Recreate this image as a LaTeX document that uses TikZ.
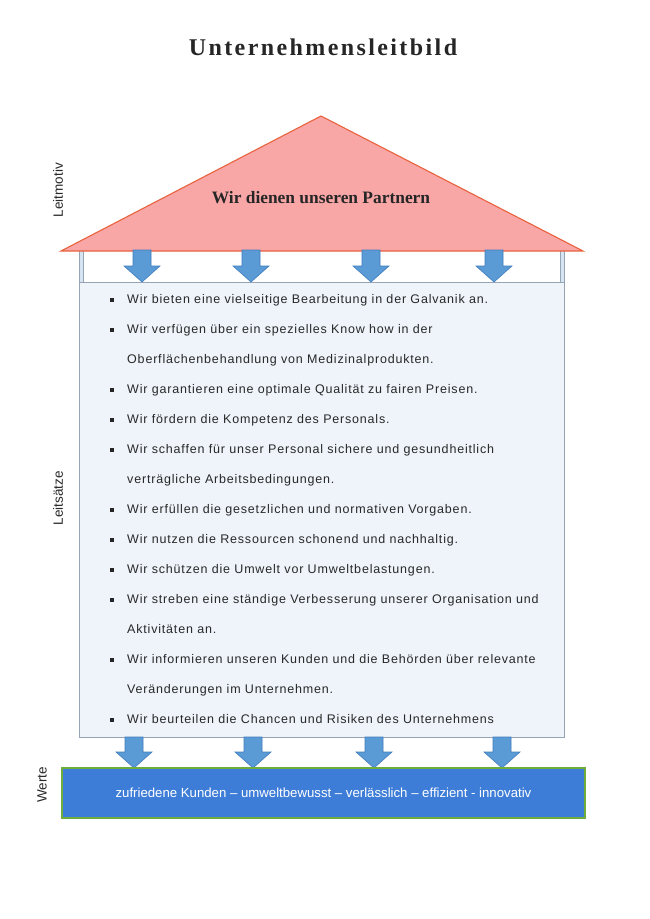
\documentclass[tikz,border=0pt]{standalone}
\usepackage{fontspec}
\setmainfont{Liberation Serif}
\newfontfamily\bodyfont[LetterSpace=6.5]{Liberation Sans}
\newfontfamily\plainsans{Liberation Sans}
\newfontfamily\titlefont[LetterSpace=10]{Liberation Serif}
\definecolor{roofF}{RGB}{249,166,166}
\definecolor{roofD}{RGB}{232,98,62}
\definecolor{arrF}{RGB}{91,155,213}
\definecolor{arrD}{RGB}{65,125,190}
\definecolor{boxF}{RGB}{238,244,250}
\definecolor{boxD}{RGB}{150,165,182}
\definecolor{stripF}{RGB}{215,228,242}
\definecolor{baseF}{RGB}{62,125,215}
\definecolor{baseD}{RGB}{110,172,60}
\definecolor{txt}{RGB}{40,40,40}
\tikzset{
  roof/.style={fill=roofF, draw=roofD, line width=1.1pt, line join=miter},
  arrowblk/.style={fill=arrF, draw=arrD, line width=0.6pt},
  mainbox/.style={fill=boxF, draw=boxD, line width=0.9pt, inner sep=0pt, outer sep=0pt},
  stripbox/.style={fill=stripF, draw=boxD, line width=0.7pt, inner sep=0pt, outer sep=0pt},
  basebox/.style={fill=baseF, draw=baseD, line width=1.2pt, inner sep=0pt, outer sep=0pt},
  bodytext/.style={anchor=mid west, inner sep=0pt, text=txt, font=\bodyfont\fontsize{12.5}{14}\selectfont},
  bul/.style={fill=black!85, inner sep=0pt, minimum size=4.3pt},
  sidelabel/.style={rotate=90, inner sep=0pt, text=txt, font=\plainsans\fontsize{13.5}{15}\selectfont},
}
\newcommand\blkarrow[3]{% x, ytop, ybottom
  \draw[arrowblk] (#1-9,#2) -- (#1+9,#2) -- (#1+9,#3-16) -- (#1+18,#3-16) -- (#1,#3)
     -- (#1-18,#3-16) -- (#1-9,#3-16) -- cycle;}
\begin{document}
\begin{tikzpicture}[x=1pt,y=-1pt]
\useasboundingbox (0,0) rectangle (650,919);
\fill[white] (0,0) rectangle (650,919);

% title
\node[inner sep=0pt, font=\titlefont\bfseries\fontsize{24}{27}\selectfont, text=black!85] (title) at (323,47) {Unternehmensleitbild};

% side strips under roof
\node[stripbox, minimum width=4pt, minimum height=32pt, anchor=north west] (sl) at (79,250) {};
\node[stripbox, minimum width=4pt, minimum height=32pt, anchor=north east] (sr) at (564,250) {};

% main box
\node[mainbox, minimum width=485pt, minimum height=455pt, anchor=north west] (box) at (79,282) {};

% roof
\draw[roof] (61,251) -- (321,116) -- (583,251) -- cycle;
\node[inner sep=0pt, font=\bfseries\fontsize{17.4}{20}\selectfont, text=black!85] (motto) at (321,198) {Wir dienen unseren Partnern};

% top arrows
\foreach \x in {142,251,371,494} { \blkarrow{\x}{250}{282} }

% bottom arrows
\foreach \x in {134,253,374,502} { \blkarrow{\x}{737}{768} }

% base box
\node[basebox, minimum width=523pt, minimum height=50pt, anchor=north west] (base) at (62,768) {};
\node[inner sep=0pt, text=white, font=\plainsans\fontsize{13.2}{15}\selectfont] (values) at (base.center) {zufriedene Kunden – umweltbewusst – verlässlich – effizient - innovativ};

% body lines
\foreach \i/\b/\t in {
 0/1/Wir bieten eine vielseitige Bearbeitung in der Galvanik an.,
 1/1/Wir verfügen über ein spezielles Know how in der,
 2/0/Oberflächenbehandlung von Medizinalprodukten.,
 3/1/Wir garantieren eine optimale Qualität zu fairen Preisen.,
 4/1/Wir fördern die Kompetenz des Personals.,
 5/1/Wir schaffen für unser Personal sichere und gesundheitlich,
 6/0/verträgliche Arbeitsbedingungen.,
 7/1/Wir erfüllen die gesetzlichen und normativen Vorgaben.,
 8/1/Wir nutzen die Ressourcen schonend und nachhaltig.,
 9/1/Wir schützen die Umwelt vor Umweltbelastungen.,
 10/1/Wir streben eine ständige Verbesserung unserer Organisation und,
 11/0/Aktivitäten an.,
 12/1/Wir informieren unseren Kunden und die Behörden über relevante,
 13/0/Veränderungen im Unternehmen.,
 14/1/Wir beurteilen die Chancen und Risiken des Unternehmens}
{
  \node[bodytext] (t\i) at (127,301+30*\i) {\t};
  \ifnum\b=1 \node[bul] (b\i) at (112,300+30*\i) {}; \fi
}

% side labels
\node[sidelabel] (lmotiv) at (58,190) {Leitmotiv};
\node[sidelabel] (lsaetze) at (58,498) {Leitsätze};
\node[sidelabel] (lwerte) at (42,785) {Werte};
\end{tikzpicture}
\end{document}
